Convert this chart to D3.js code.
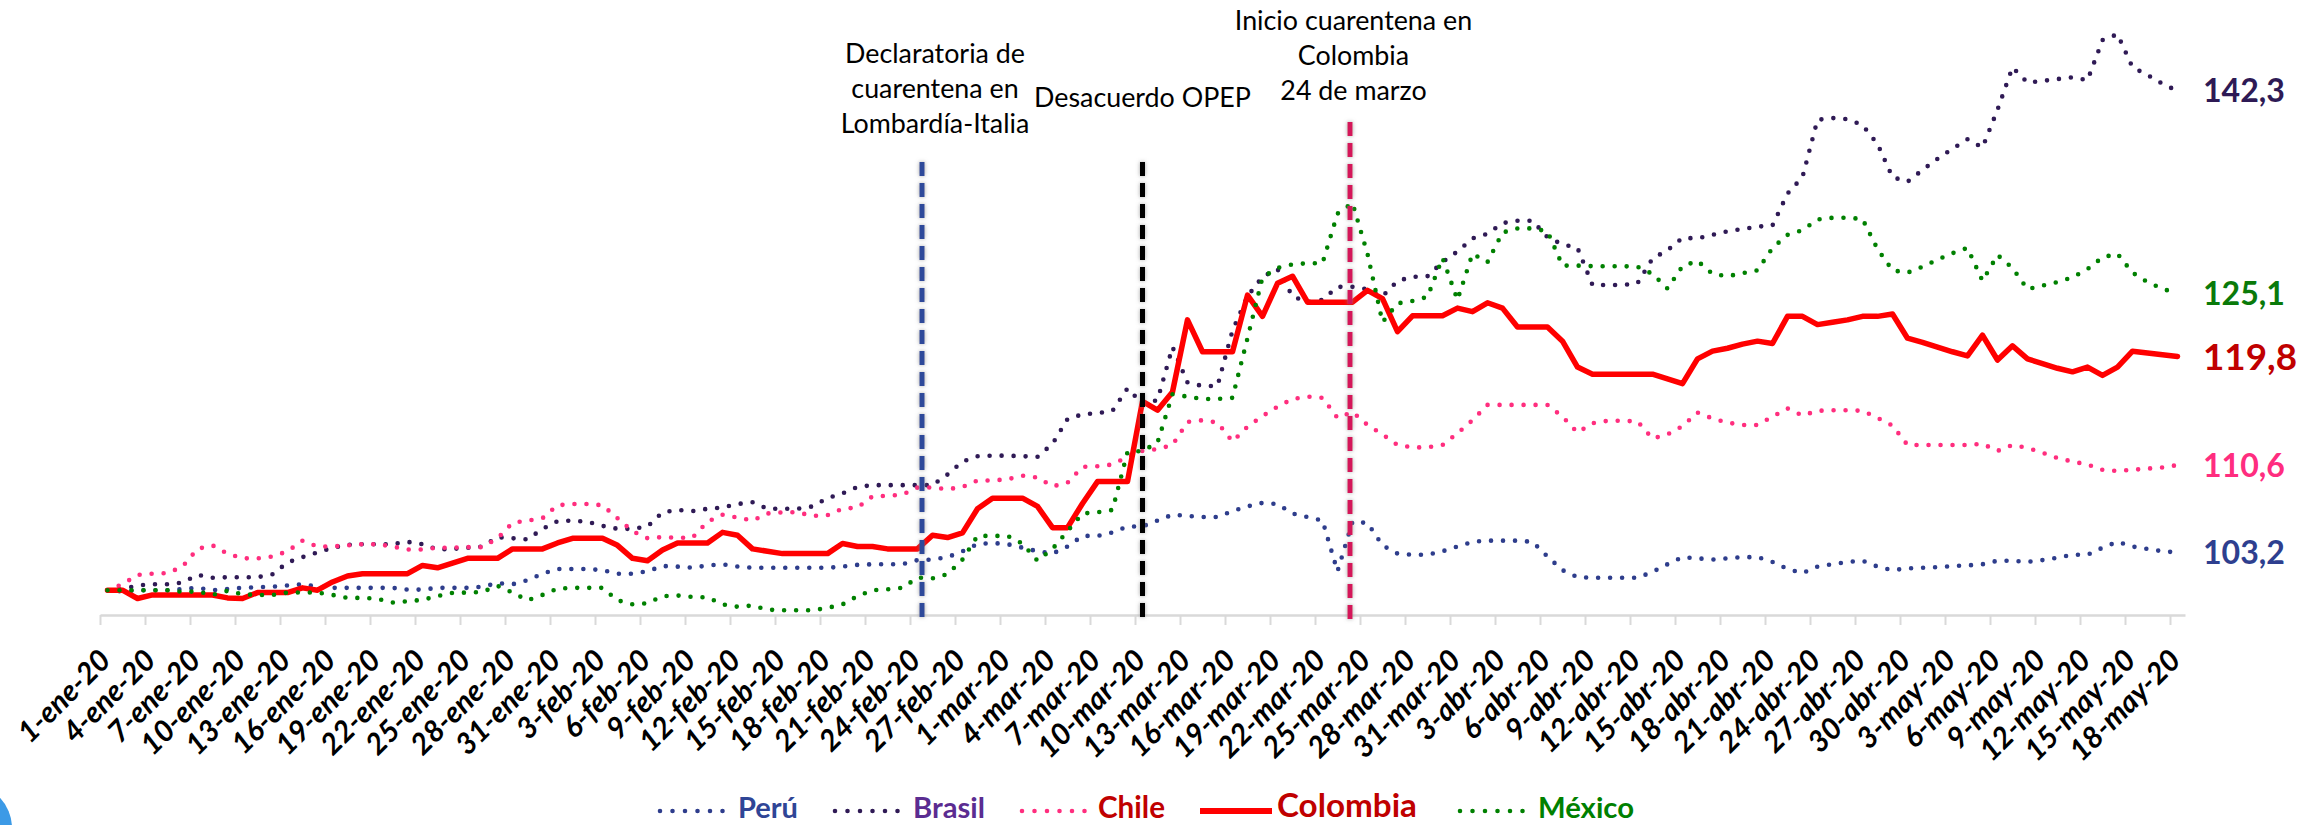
<!DOCTYPE html>
<html><head><meta charset="utf-8">
<script src="https://cdn.jsdelivr.net/npm/d3@7"></script>
<style>body{margin:0;background:#fff;} svg{display:block;}</style>
</head><body>
<svg id="chart" width="2320" height="825"></svg>
<script>
// ---------------- DATA ----------------
const months = [["ene",31],["feb",29],["mar",31],["abr",30],["may",18]];
const categories = months.flatMap(([m,n]) => d3.range(1,n+1).map(d => `${d}-${m}-20`));

const tickLabels = ["1-ene-20","4-ene-20","7-ene-20","10-ene-20","13-ene-20","16-ene-20","19-ene-20","22-ene-20","25-ene-20","28-ene-20","31-ene-20",
 "3-feb-20","6-feb-20","9-feb-20","12-feb-20","15-feb-20","18-feb-20","21-feb-20","24-feb-20","27-feb-20",
 "1-mar-20","4-mar-20","7-mar-20","10-mar-20","13-mar-20","16-mar-20","19-mar-20","22-mar-20","25-mar-20","28-mar-20","31-mar-20",
 "3-abr-20","6-abr-20","9-abr-20","12-abr-20","15-abr-20","18-abr-20","21-abr-20","24-abr-20","27-abr-20","30-abr-20",
 "3-may-20","6-may-20","9-may-20","12-may-20","15-may-20","18-may-20"];

const peru = [100,99.9,100,100,100,100.1,100.2,100.0,100.1,100.2,
 100.25,100.3,100.4,100.5,100.3,100.2,100.2,100.2,100.2,100.2,
 100.05,100.05,100.2,100.2,100.2,100.3,100.6,100.5,100.85,101.4,
 101.8,101.8,101.8,101.7,101.4,101.4,101.6,102.05,102.0,101.9,
 102.1,102.2,102.0,101.9,101.9,101.9,101.9,101.9,101.9,102.0,
 102.15,102.2,102.2,102.2,102.55,102.6,102.8,103.3,103.9,104.0,
 103.9,103.6,103.3,103.1,103.7,104.6,104.6,104.9,105.4,105.4,
 105.9,106.4,106.3,106.2,106.2,106.7,107.1,107.4,107.3,106.5,
 106.2,105.9,101.6,105.8,105.7,103.8,103.1,103.0,103.0,103.3,
 103.7,104.1,104.2,104.2,104.2,104.1,102.85,101.7,101.1,101.05,
 101.05,101.05,101.05,101.55,102.2,102.8,102.7,102.6,102.7,102.8,
 102.8,102.4,101.8,101.45,102.0,102.2,102.4,102.5,102.0,101.7,
 101.85,101.9,101.95,102.05,102.1,102.2,102.5,102.5,102.4,102.55,
 102.75,103.0,103.0,103.6,104.1,103.7,103.5,103.3,103.2];

const brasil = [100,100.1,100.4,100.5,100.5,100.65,101.3,101.05,101.1,101.1,
 101.1,101.35,102.35,102.8,103.2,103.6,103.85,103.9,103.9,103.9,
 104.1,103.9,103.45,103.5,103.6,103.7,104.5,104.4,104.3,105.2,
 105.85,105.9,105.8,105.45,105.2,105.2,105.4,106.6,106.8,106.7,
 106.9,107.0,107.3,107.45,106.9,106.9,106.9,107.1,107.8,108.2,
 108.75,108.9,108.9,108.9,108.9,108.9,109.8,110.9,111.35,111.4,
 111.4,111.35,111.3,112.4,114.5,114.9,115.0,115.2,117.1,115.8,
 116.1,120.6,117.6,117.3,117.3,122.0,124.9,126.55,127.2,124.9,
 124.4,124.6,125.7,125.7,125.5,124.9,126.2,126.55,126.6,127.8,
 128.7,129.8,130.2,131.1,131.3,131.3,129.9,129.3,129.0,125.85,
 125.85,125.85,126.0,128.1,128.8,129.85,129.8,130.1,130.4,130.6,
 130.8,130.9,133.6,135.0,139.85,140.0,139.9,139.4,137.8,135.0,
 134.6,135.6,136.55,137.4,138.2,137.5,140.7,144.3,143.0,143.15,
 143.3,143.45,143.2,146.6,147.1,144.3,143.65,142.9,142.3];

const chile = [100,100.5,101.3,101.4,101.45,102.0,103.5,103.8,103.1,102.7,
 102.7,102.85,103.3,104.2,103.7,103.7,103.8,103.9,103.9,103.7,
 103.45,103.45,103.6,103.6,103.65,103.65,104.4,105.7,105.9,106.1,
 107.2,107.3,107.3,107.2,106.1,105.0,104.4,104.5,104.45,104.45,
 105.8,106.4,106.15,105.9,106.5,106.6,106.6,106.3,106.35,106.9,
 107.0,107.95,108.0,108.1,108.7,108.7,108.55,108.75,109.3,109.3,
 109.4,109.7,109.55,108.8,109.1,110.45,110.5,110.65,111.3,111.8,
 111.95,112.3,114.25,114.4,114.2,112.6,113.85,114.75,115.55,116.2,
 116.4,116.3,114.6,115.1,114.0,113.2,112.3,112.1,112.1,112.3,
 113.3,114.4,115.7,115.7,115.7,115.7,115.7,114.7,113.35,114.15,
 114.35,114.35,114.3,112.85,113.2,113.9,115.05,114.55,114.2,114.0,
 114.0,114.7,115.4,114.8,115.2,115.25,115.25,115.2,114.6,113.95,
 112.3,112.3,112.3,112.3,112.3,112.4,111.8,112.3,112.05,111.65,
 111.2,110.9,110.65,110.2,110.1,110.2,110.3,110.4,110.6];

const colombia = [100,100,99.3,99.6,99.6,99.6,99.6,99.6,99.35,99.3,
 99.8,99.8,99.8,100.2,100.0,100.7,101.2,101.4,101.4,101.4,
 101.4,102.1,101.9,102.3,102.7,102.7,102.7,103.5,103.5,103.5,
 104.0,104.4,104.4,104.4,103.8,102.7,102.5,103.4,104.0,104.0,
 104.0,104.9,104.66,103.5,103.3,103.1,103.1,103.1,103.1,103.96,
 103.7,103.7,103.5,103.5,103.5,104.66,104.46,104.86,106.9,107.8,
 107.8,107.8,107.1,105.3,105.3,107.35,109.2,109.2,109.2,116.0,
 115.25,116.8,122.9,120.2,120.2,120.2,125.0,123.2,126.0,126.6,
 124.4,124.4,124.4,124.4,125.4,124.7,121.9,123.25,123.25,123.25,
 123.9,123.6,124.35,123.9,122.3,122.3,122.3,121.1,118.9,118.3,
 118.3,118.3,118.3,118.3,117.9,117.5,119.6,120.25,120.5,120.85,
 121.1,120.9,123.2,123.2,122.5,122.7,122.9,123.2,123.2,123.4,
 121.35,121.0,120.6,120.2,119.85,121.6,119.5,120.7,119.6,119.2,
 118.8,118.5,118.9,118.2,118.9,120.25,120.1,119.95,119.8];

const mexico = [100,100,100,100,100,99.86,99.9,99.6,99.95,99.65,
 99.6,99.6,99.8,99.8,99.8,99.6,99.35,99.35,99.27,98.95,
 99.07,99.18,99.5,99.77,99.8,99.86,100.37,99.8,99.15,99.6,
 100.14,100.2,100.2,100.2,99.15,98.8,98.9,99.5,99.55,99.43,
 99.4,98.8,98.6,98.7,98.35,98.3,98.3,98.3,98.5,98.8,
 99.5,100.0,100.08,100.2,101.07,101.0,101.36,102.6,104.6,104.6,
 104.6,103.95,102.5,103.5,105.0,106.5,106.6,106.8,111.7,111.8,
 112.5,116.6,116.4,116.2,116.2,116.3,121.35,126.5,127.3,127.6,
 127.7,127.7,131.9,132.8,128.5,122.7,124.3,124.5,124.85,128.15,
 124.6,128.5,127.8,130.3,130.65,130.65,130.4,127.5,127.5,127.45,
 127.45,127.45,127.4,126.8,125.55,127.45,127.9,126.8,126.6,126.85,
 127.1,129.0,130.1,130.5,131.4,131.55,131.55,131.45,128.9,127.1,
 126.9,127.4,128.0,128.55,129.0,126.2,128.4,127.3,125.5,125.8,
 126.1,126.5,127.2,128.2,128.5,126.9,126.1,125.55,125.1];

const seriesNames = ["Perú","Brasil","Chile","Colombia","México"];
const seriesValues = [peru, brasil, chile, colombia, mexico];

const eventDates = ["24-feb-20","10-mar-20","24-mar-20"];
const eventTexts = [
  ["Declaratoria de","cuarentena en","Lombardía-Italia"],
  ["Desacuerdo OPEP"],
  ["Inicio cuarentena en","Colombia","24 de marzo"]
];

// ---------------- STYLE / LAYOUT ----------------
const seriesStyle = {
  "Perú":     {stroke:"#2E3D8C", dotted:true,  legendText:"#2F4596", endText:"#2E3F8F"},
  "Brasil":   {stroke:"#2F1A55", dotted:true,  legendText:"#5B2C91", endText:"#2E1A55"},
  "Chile":    {stroke:"#FF2E7E", dotted:true,  legendText:"#C00000", endText:"#FF2D7F"},
  "Colombia": {stroke:"#FF0000", dotted:false, legendText:"#C00000", endText:"#C00000"},
  "México":   {stroke:"#008000", dotted:true,  legendText:"#008000", endText:"#0A7A0A"}
};
const legendLayout = {
  "Perú":     {x1:660,  x2:726,  tx:738,  tw:60,  base:818},
  "Brasil":   {x1:835,  x2:898,  tx:913,  tw:72,  base:818},
  "Chile":    {x1:1022, x2:1088, tx:1098, tw:67,  base:818},
  "Colombia": {x1:1200, x2:1272, tx:1277, tw:140, base:817},
  "México":   {x1:1460, x2:1523, tx:1538, tw:96,  base:818}
};
const eventStyle = [
  {color:"#2E4A9A", top:162, nudge:4.5, textNudge:17.5, baselines:[63,98,133]},
  {color:"#000000", top:162, nudge:0,   textNudge:0,    baselines:[107]},
  {color:"#D4145A", top:122, nudge:-2.5,textNudge:1,    baselines:[30,65,100]}
];

const svg = d3.select("#chart");
const FONT = "Lato, 'Open Sans', sans-serif";

function fitSize(sel, target){
  const fs = parseFloat(sel.attr("font-size"));
  const w = sel.node().getComputedTextLength();
  return fs * target / w;
}

// defs
const defs = svg.append("defs");
defs.append("filter").attr("id","shadow").attr("filterUnits","userSpaceOnUse")
  .attr("x",0).attr("y",0).attr("width",2320).attr("height",825)
  .append("feDropShadow").attr("dx",0).attr("dy",0).attr("stdDeviation",2)
  .attr("flood-color","#808080").attr("flood-opacity",0.7);

// scales
const xIdx = d3.scaleLinear().domain([0, categories.length]).range([100, 2185]);
const xc = i => xIdx(i + 0.5);
const y = d3.scaleLinear().domain([97.9, 150]).range([615, 0]);

// axis
const tickIdx = tickLabels.map(l => categories.indexOf(l));
const axisG = svg.append("g").attr("transform","translate(0,615)")
  .call(d3.axisBottom(xIdx).tickValues(tickIdx).tickSize(10).tickSizeOuter(0)
        .tickFormat(i => categories[i]));
axisG.select(".domain").attr("stroke","#D9D9D9").attr("stroke-width",2.5);
axisG.selectAll(".tick line").attr("stroke","#D9D9D9").attr("stroke-width",2);
axisG.attr("font-family", FONT).attr("font-size", 28);
const tickTexts = axisG.selectAll(".tick text")
  .attr("x",0).attr("y",0).attr("dy",0)
  .attr("fill","#000").attr("font-weight","bold").attr("font-style","italic")
  .style("text-anchor","end")
  .attr("transform","translate(12,47) rotate(-45)");
{
  const ref = tickTexts.filter(d => categories[d] === "10-ene-20");
  const tw = ref.node().getComputedTextLength();
  axisG.attr("font-size", 28 * 134 / tw);
}

// series
const line = d3.line().x((d,i) => xc(i)).y(d => y(d)).curve(d3.curveLinear);
seriesNames.forEach((name, k) => {
  const st = seriesStyle[name];
  const p = svg.append("path").datum(seriesValues[k])
    .attr("d", line).attr("fill","none").attr("stroke", st.stroke)
    .attr("stroke-linejoin","round").attr("stroke-linecap","round");
  if (st.dotted) p.attr("stroke-width",4.6).attr("stroke-dasharray","0 12");
  else p.attr("stroke-width",5.5);
});

// event lines
eventDates.forEach((dt, k) => {
  const i = categories.indexOf(dt);
  const es = eventStyle[k];
  const lx = xc(i) + es.nudge;
  svg.append("line").attr("x1",lx).attr("x2",lx).attr("y1",es.top).attr("y2",622)
    .attr("stroke", es.color).attr("stroke-width",5).attr("stroke-dasharray","14 7")
    .attr("filter","url(#shadow)");
});

// annotations
const annG = svg.append("g").attr("font-family", FONT).attr("fill","#000");
let annSize = 28;
{
  const t = annG.append("text").attr("font-size",28).text(eventTexts[0][0]);
  annSize = fitSize(t, 180);
  t.remove();
}
eventDates.forEach((dt, k) => {
  const i = categories.indexOf(dt);
  const es = eventStyle[k];
  const tx = xc(i) + es.textNudge;
  eventTexts[k].forEach((ln, j) => {
    annG.append("text").attr("x", tx).attr("y", es.baselines[j])
      .attr("text-anchor","middle").attr("font-size", annSize).text(ln);
  });
});

// end labels
const endG = svg.append("g").attr("font-family", FONT).attr("font-weight","bold");
let endSize = 36, endSizeCol = 41;
{
  const t = endG.append("text").attr("font-size",36).text("142,3");
  endSize = fitSize(t, 82);
  t.attr("font-size",36).text("119,8");
  endSizeCol = fitSize(t, 94);
  t.remove();
}
seriesNames.forEach((name, k) => {
  const vals = seriesValues[k];
  const v = vals[vals.length - 1];
  const fs = name === "Colombia" ? endSizeCol : endSize;
  endG.append("text").attr("x", 2203).attr("y", y(v) + 0.36 * fs)
    .attr("font-size", fs).attr("fill", seriesStyle[name].endText)
    .text(v.toFixed(1).replace(".", ","));
});

// legend
const legG = svg.append("g").attr("font-family", FONT).attr("font-weight","bold");
seriesNames.forEach(name => {
  const st = seriesStyle[name], L = legendLayout[name];
  const ln = legG.append("line").attr("x1",L.x1).attr("x2",L.x2).attr("y1",811).attr("y2",811)
    .attr("stroke", st.stroke).attr("stroke-linecap","round");
  if (st.dotted) ln.attr("stroke-width",4.6).attr("stroke-dasharray","0 12.5");
  else ln.attr("stroke-width",6).attr("stroke-linecap","butt");
  const t = legG.append("text").attr("x", L.tx).attr("y", L.base).attr("font-size", 28)
    .attr("fill", st.legendText).text(name);
  t.attr("font-size", fitSize(t, L.tw));
});

// partial logo at bottom-left corner
svg.append("circle").attr("cx",-32).attr("cy",828).attr("r",44).attr("fill","#3C9AE6");
</script>
</body></html>
